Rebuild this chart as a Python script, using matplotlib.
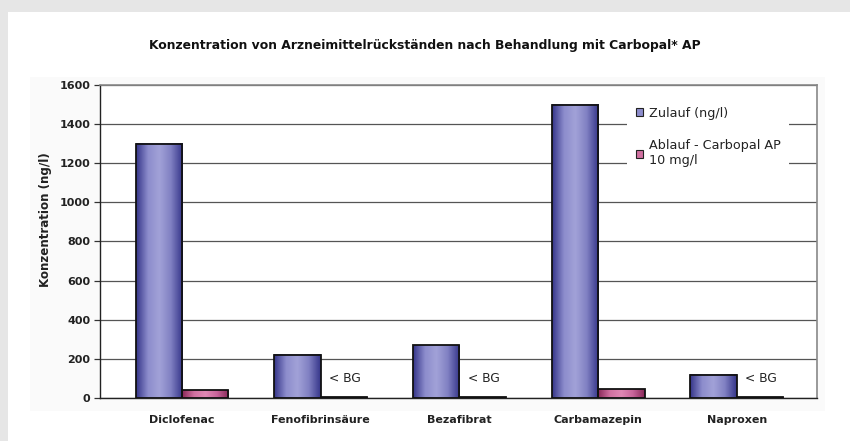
import matplotlib
matplotlib.use("Agg")
import matplotlib.pyplot as plt
import numpy as np
from matplotlib.colors import LinearSegmentedColormap
from matplotlib.patches import Rectangle

categories = ["Diclofenac", "Fenofibrinsäure", "Bezafibrat", "Carbamazepin", "Naproxen"]
zulauf = [1300, 220, 270, 1500, 120]
ablauf = [40, 5, 5, 45, 5]
below_bg = [False, True, True, False, True]
bg_label = "< BG"
series_names = ["Zulauf (ng/l)", "Ablauf - Carbopal AP\n10 mg/l"]
title = "Konzentration von Arzneimittelrückständen nach Behandlung mit Carbopal* AP"
ylabel = "Konzentration (ng/l)"
yticks = [0, 200, 400, 600, 800, 1000, 1200, 1400, 1600]

W, H = 850, 441
plt.rcParams["font.family"] = ["DejaVu Sans"]
fig = plt.figure(figsize=(W / 100, H / 100), dpi=100)
fig.patch.set_facecolor("#e6e6e6")

# white card
fig.add_artist(Rectangle((8 / W, 0), 1, 1 - 12 / H, transform=fig.transFigure,
                         facecolor="white", edgecolor="none", zorder=0))
fig.add_artist(Rectangle((30 / W, 30 / H), 795 / W, 1 - 107 / H, transform=fig.transFigure,
                         facecolor="#fafafa", edgecolor="none", zorder=0))

ax = fig.add_axes([100 / W, 1 - 398 / H, 717 / W, 313 / H])
ax.set_facecolor("white")

x = np.arange(len(categories))
w = 0.335

blue_cmap = LinearSegmentedColormap.from_list("b", ["#36368a", "#8c8ccc", "#a2a2d8", "#8080c2", "#36368a"])
pink_cmap = LinearSegmentedColormap.from_list("p", ["#8a2a5a", "#d070a0", "#e088b4", "#c8649a", "#8a2a5a"])
grad = np.linspace(0, 1, 64).reshape(1, -1)

def draw_bars(xs, vals, cmap, z):
    bars = ax.bar(xs, vals, width=w, align="edge", facecolor="none",
                  edgecolor="#111111", linewidth=1.3, zorder=z + 1)
    for b in bars:
        bx, by = b.get_x(), b.get_y()
        bw, bh = b.get_width(), b.get_height()
        ax.imshow(grad, extent=[bx, bx + bw, by, by + bh], aspect="auto",
                  cmap=cmap, zorder=z, interpolation="bilinear")
    return bars

draw_bars(x - w, zulauf, blue_cmap, 3)
draw_bars(x, ablauf, pink_cmap, 3)

for i, flag in enumerate(below_bg):
    if flag:
        ax.text(x[i] + 0.06, 100, bg_label, ha="left", va="center", fontsize=8.8,
                color="#222222", zorder=6)

ax.set_xlim(-0.591, 4.577)
ax.set_ylim(0, 1600)
ax.set_yticks(yticks)
ax.set_yticklabels([str(v) for v in yticks], fontsize=8, color="#222222", fontweight="bold")
ax.set_xticks(x)
ax.set_xticklabels(categories, fontsize=8, fontweight="bold", color="#222222")
ax.tick_params(axis="x", length=0, pad=12)
ax.tick_params(axis="y", length=4, width=0.9, color="#333333", pad=3)
ax.grid(axis="y", color="#555555", linewidth=0.9, zorder=1)
ax.set_axisbelow(True)
ax.set_ylabel(ylabel, fontsize=8.6, fontweight="bold", color="#222222")
ax.yaxis.set_label_coords(-0.067, 0.569)
for s in ["left", "bottom"]:
    ax.spines[s].set_color("#222222")
    ax.spines[s].set_linewidth(1.0)
for s in ["top", "right"]:
    ax.spines[s].set_color("#888888")
    ax.spines[s].set_linewidth(1.2)

handles = [Rectangle((0, 0), 1, 1, facecolor="#8c8ccc", edgecolor="#222222", linewidth=0.8),
           Rectangle((0, 0), 1, 1, facecolor="#d070a0", edgecolor="#222222", linewidth=0.8)]
leg = ax.legend(handles, series_names, loc="upper left", bbox_to_anchor=(0.726, 0.98),
                frameon=True, fontsize=9.2, handlelength=0.55, handleheight=0.55,
                handletextpad=0.45, labelspacing=1.55, borderpad=0.7, fancybox=False)
leg.get_frame().set_facecolor("white")
leg.get_frame().set_edgecolor("none")
leg.get_frame().set_alpha(1)
leg.set_zorder(7)
for t in leg.get_texts():
    t.set_color("#222222")

fig.text(425 / W, 1 - 45 / H, title, ha="center", va="center", fontsize=8.9,
         fontweight="bold", color="#111111")

fig.savefig("out.png", dpi=100, facecolor=fig.get_facecolor())
